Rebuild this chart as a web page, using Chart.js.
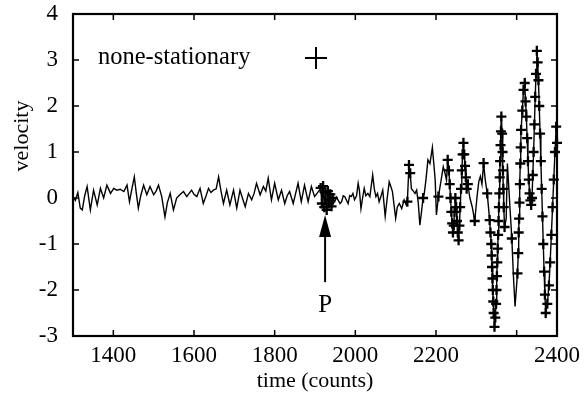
<!DOCTYPE html>
<html><head><meta charset="utf-8">
<script src="https://cdn.jsdelivr.net/npm/chart.js@4.4.0/dist/chart.umd.min.js"></script>
<style>html,body{margin:0;padding:0;background:#fff}#wrap{width:585px;height:397px}</style>
</head><body><div id="wrap"><canvas id="c" width="585" height="397"></canvas></div>
<script>
// ---- tick labels ----
const xTickValues = [1400, 1600, 1800, 2000, 2200, 2400, 2500];
const xTickLabels = ["1400", "1600", "1800", "2000", "2200", "", "2400"];
const yTickValues = [-3, -2, -1, 0, 1, 2, 3, 4];

// ---- series: time (counts) and velocity ----
const time = [
  1300,1306,1312,1318,1323,1329,1335,1343,1351,1360,
  1368,1376,1384,1393,1401,1409,1417,1426,1434,1440,
  1446,1452,1457,1462,1468,1475,1483,1491,1500,1506,
  1512,1520,1528,1534,1541,1549,1557,1566,1574,1582,
  1588,1594,1600,1607,1615,1623,1630,1636,1642,1648,
  1655,1661,1667,1673,1681,1689,1698,1706,1714,1720,
  1727,1735,1743,1749,1755,1764,1772,1778,1784,1792,
  1800,1809,1817,1825,1831,1837,1846,1852,1858,1866,
  1874,1883,1891,1899,1905,1911,
  1914,1917,1920,1923,1926,1929,1932,1935,1938,1941,1944,
  1949,1953,1957,1962,1966,1970,1974,1978,1982,1986,
  1990,1994,1998,2003,2007,2010,2014,2018,2022,2026,
  2031,2036,2043,2047,2051,2055,2059,2064,2068,2074,
  2079,2084,2088,2092,2100,2104,2109,2115,2121,2126,
  2129,2133,2136,2139,2142,2148,2152,2156,2160,2164,
  2168,2171,2175,2180,2185,2191,2195,2198,2201,2206,
  2214,2218,2222,2226,
  2229,2232,2234,2236,2238,2240,2242,2244,2246,2248,
  2250,2252,2254,2256,2258,2260,2262,2264,2266,2268,
  2270,2272,2274,2276,2279,
  2284,2290,2296,2302,2306,2310,2314,2318,2322,2327,
  2333,2335,2337,2338,2339,2340,2341,2342,2343,2345,
  2347,2349,2350,2351,2352,2353,2354,2355,2356,2357,
  2358,2359,2360,2361,2362,2364,2365,2366,2367,2368,2370,
  2374,2377,2380,2384,2388,2392,2396,2399,
  2402,2404,2405,2406,2407,2408,2409,2410,2411,2414,
  2417,2420,2422,2424,2426,2428,2430,2432,2434,2436,
  2438,2440,2442,2444,2446,2448,2450,2452,2454,2456,
  2458,2460,2462,2464,2466,2468,2470,2472,2476,2480,
  2483,2486,2489,2492,2495,2498,2500
];
const velocity = [
  0.03,-0.05,0.12,-0.22,-0.26,0.05,0.25,-0.26,0.17,-0.15,
  0.21,0.0,0.28,0.1,0.21,0.17,0.19,0.14,0.28,-0.08,
  0.2,0.46,0.1,-0.22,0.05,0.28,0.07,0.25,0.07,0.15,
  0.28,0.03,-0.41,-0.1,0.1,-0.26,0.0,0.08,0.14,0.03,
  0.1,0.17,0.08,0.03,0.21,-0.12,0.05,0.21,0.12,0.17,
  0.2,0.46,0.15,-0.12,0.17,-0.15,0.17,-0.22,0.17,0.0,
  -0.19,0.1,-0.04,0.1,0.32,0.07,0.25,0.15,0.43,-0.04,
  0.32,-0.04,0.17,-0.12,0.05,0.14,-0.12,0.1,0.32,-0.08,
  0.28,-0.08,0.25,0.03,0.1,0.17,
  0.22,-0.12,0.26,-0.2,0.12,-0.26,0.15,-0.12,0.08,-0.18,0.0,
  -0.08,0.02,-0.04,-0.12,-0.08,0.05,0.03,-0.05,-0.12,0.05,
  0.03,0.1,-0.04,0.05,0.32,0.17,-0.23,0.0,0.21,0.05,
  0.1,0.03,0.5,0.2,0.03,0.1,-0.08,0.05,0.17,-0.4,
  0.0,0.35,0.25,0.14,-0.44,-0.2,-0.12,-0.23,-0.04,-0.15,
  -0.08,0.72,0.54,0.2,0.17,0.1,0.17,-0.1,-0.59,-0.3,
  0.0,0.1,0.39,0.83,0.75,1.1,0.7,0.39,-0.37,0.03,
  0.46,0.68,0.55,0.39,
  0.83,0.6,0.3,0.0,-0.3,-0.55,-0.75,-0.6,-0.3,0.0,
  -0.2,-0.5,-0.75,-0.92,-0.6,-0.2,0.2,0.6,0.95,1.2,
  0.95,0.7,0.45,0.2,0.3,
  0.0,-0.2,-0.5,0.05,0.35,0.47,0.3,0.76,0.4,0.1,
  -0.48,-0.75,-1.0,-1.25,-1.5,-1.75,-2.0,-2.25,-2.5,-2.8,
  -2.6,-2.3,-2.0,-1.7,-1.4,-1.1,-0.8,-0.5,-0.2,0.1,
  0.45,0.8,1.15,1.45,1.77,1.4,1.0,0.6,0.2,-0.2,-0.63,
  -0.45,0.75,0.3,-0.3,-0.88,-1.7,-2.36,-2.0,
  -1.64,-1.2,-0.75,-0.45,-0.1,0.3,0.75,1.1,1.48,1.9,
  2.35,2.5,2.1,1.77,1.3,0.8,0.4,0.1,-0.05,-0.15,
  0.0,0.5,1.0,1.6,2.2,2.7,3.2,2.95,2.56,2.0,
  1.4,0.8,0.2,-0.4,-1.0,-1.6,-2.1,-2.5,-2.3,-1.9,
  -1.4,-0.8,-0.2,0.4,1.0,1.55,1.2
];
// time spans whose samples are flagged as non-stationary (+ markers)
const nonStationarySpans = [
  [1914,1944],[2129,2136],[2168,2168],[2206,2206],[2229,2279],
  [2296,2296],[2318,2318],[2327,2370],[2388,2388],[2402,2500]
];

const legendLabel = "none-stationary";
const xTitle = "time (counts)";
const yTitle = "velocity";
// annotation: arrow pointing at P
const arrowTime = 1925;
const arrowTipVelocity = -0.37;
const arrowHeadBaseVelocity = -0.85;
const arrowTailVelocity = -1.83;
const arrowLabel = "P";
const arrowLabelVelocity = -2.33;

const FONT = "'Liberation Serif', 'DejaVu Serif', serif";
Chart.defaults.font.family = FONT;
Chart.defaults.color = '#000';

const linePts = time.map((t, i) => ({x: t, y: velocity[i]}));
const isMarked = t => nonStationarySpans.some(s => t >= s[0] && t <= s[1]);
const markPts = linePts.filter(p => isMarked(p.x));

const decorPlugin = {
  id: 'decor',
  afterDraw(chart) {
    const {ctx, chartArea: a, scales: {x, y}} = chart;
    ctx.save();
    ctx.strokeStyle = '#000';
    ctx.fillStyle = '#000';
    // inward ticks, mirrored
    const tl = 6;
    ctx.lineWidth = 1.5;
    ctx.beginPath();
    xTickValues.forEach(v => {
      const px = x.getPixelForValue(v);
      ctx.moveTo(px, a.bottom); ctx.lineTo(px, a.bottom - tl);
      ctx.moveTo(px, a.top); ctx.lineTo(px, a.top + tl);
    });
    yTickValues.forEach(v => {
      const py = y.getPixelForValue(v);
      ctx.moveTo(a.left, py); ctx.lineTo(a.left + tl, py);
      ctx.moveTo(a.right, py); ctx.lineTo(a.right - tl, py);
    });
    ctx.stroke();
    // frame
    ctx.lineWidth = 2.2;
    ctx.strokeRect(a.left, a.top, a.right - a.left, a.bottom - a.top);
    // legend
    ctx.font = '24.5px ' + FONT;
    ctx.textBaseline = 'middle';
    ctx.textAlign = 'left';
    const ly = a.top + 44;
    ctx.fillText(legendLabel, a.left + 25, ly);
    const lx = a.left + 243;
    ctx.lineWidth = 2;
    ctx.beginPath();
    ctx.moveTo(lx - 11, ly); ctx.lineTo(lx + 11, ly);
    ctx.moveTo(lx, ly - 11); ctx.lineTo(lx, ly + 11);
    ctx.stroke();
    // arrow
    const ax = x.getPixelForValue(arrowTime);
    const tipY = y.getPixelForValue(arrowTipVelocity);
    const baseY = y.getPixelForValue(arrowHeadBaseVelocity);
    const tailY = y.getPixelForValue(arrowTailVelocity);
    ctx.lineWidth = 2;
    ctx.beginPath();
    ctx.moveTo(ax, tailY); ctx.lineTo(ax, baseY);
    ctx.stroke();
    ctx.beginPath();
    ctx.moveTo(ax, tipY); ctx.lineTo(ax - 6, baseY); ctx.lineTo(ax + 6, baseY);
    ctx.closePath(); ctx.fill();
    ctx.font = '25px ' + FONT;
    ctx.textAlign = 'center';
    ctx.fillText(arrowLabel, ax, y.getPixelForValue(arrowLabelVelocity));
    // y title
    ctx.font = '22px ' + FONT;
    ctx.translate(22, a.top + 122);
    ctx.rotate(-Math.PI / 2);
    ctx.fillText(yTitle, 0, 0);
    ctx.restore();
  }
};

new Chart(document.getElementById('c'), {
  type: 'scatter',
  data: {
    datasets: [
      {
        label: 'velocity',
        data: linePts,
        showLine: true,
        borderColor: '#000',
        borderWidth: 1.4,
        pointRadius: 0,
        tension: 0,
        order: 2
      },
      {
        label: legendLabel,
        data: markPts,
        showLine: false,
        pointStyle: 'cross',
        pointRadius: 5,
        borderWidth: 2.3,
        borderColor: '#000',
        backgroundColor: '#000',
        clip: false,
        order: 1
      }
    ]
  },
  options: {
    responsive: false,
    animation: false,
    devicePixelRatio: 1,
    layout: {padding: {left: 0, right: 28, top: 14, bottom: 0}},
    plugins: {legend: {display: false}, tooltip: {enabled: false}},
    scales: {
      x: {
        type: 'linear', min: 1300, max: 2500,
        afterBuildTicks: s => { s.ticks = xTickValues.map(v => ({value: v})); },
        afterFit: s => { s.height = 61; s.paddingRight = 0; s.paddingLeft = 0; },
        ticks: {
          autoSkip: false, maxRotation: 0, padding: 6,
          font: {size: 23},
          callback: v => xTickLabels[xTickValues.indexOf(v)] ?? ''
        },
        grid: {display: false, drawTicks: false},
        border: {display: false},
        title: {display: true, text: xTitle, font: {size: 22}, padding: {top: 0, bottom: 3}}
      },
      y: {
        type: 'linear', min: -3, max: 4,
        afterBuildTicks: s => { s.ticks = yTickValues.map(v => ({value: v})); },
        afterFit: s => { s.width = 73; s.paddingTop = 0; s.paddingBottom = 0; },
        ticks: {padding: 15, font: {size: 23}},
        grid: {display: false, drawTicks: false},
        border: {display: false}
      }
    }
  },
  plugins: [decorPlugin]
});
</script>
</body></html>
